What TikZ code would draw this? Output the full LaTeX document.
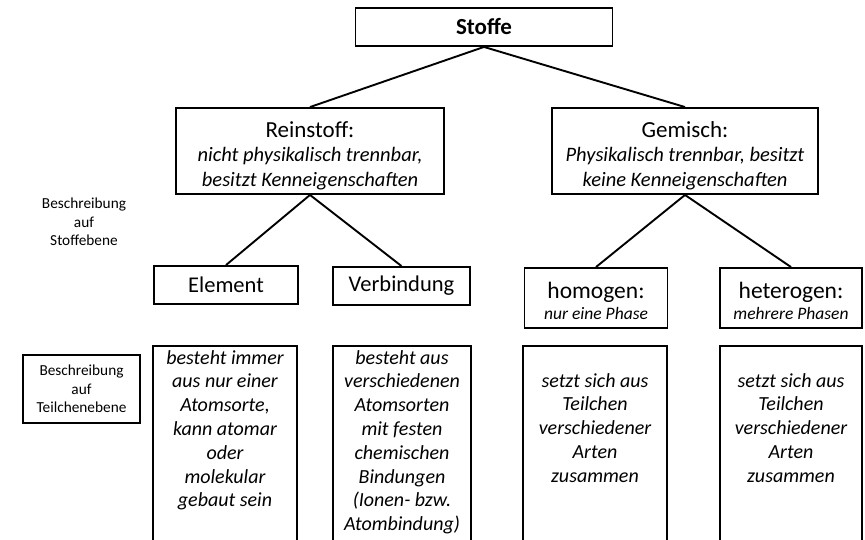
\documentclass[tikz,border=0pt]{standalone}
\usepackage{fontspec}
\setmainfont{Carlito}
\usetikzlibrary{positioning}

\begin{document}
\begin{tikzpicture}
          [x=1pt, y=-1pt,
           box/.style={draw, rectangle, line width=1.9pt, align=center, inner sep=2pt},
           big/.style={font=\fontsize{22.5}{26}\selectfont},
           descbox/.style={draw, rectangle, line width=1.9pt, anchor=north, minimum height=230pt},
           desctext/.style={anchor=north, align=center, inner sep=0pt, font=\fontsize{20}{23.8}\selectfont\itshape},
           side/.style={align=center, inner sep=0pt, font=\fontsize{15.3}{18.5}\selectfont},
           link/.style={line width=1.9pt}]
          \useasboundingbox (0,0) rectangle (865,540);
          \clip (0,0) rectangle (865,540);

          \node (stoffe) [box, minimum width=257pt, minimum height=38pt, font=\fontsize{23}{26}\selectfont\bfseries] at (484,27) {Stoffe};

          \node (rein) [box, minimum width=268pt, minimum height=86pt, font=\fontsize{20.5}{24.5}\selectfont] at (310,151)
            {{\fontsize{23}{24.5}\selectfont\rule{0pt}{25pt}Reinstoff:}\\ \textit{nicht physikalisch trennbar,}\\ \textit{besitzt Kenneigenschaften}};
          \node (gem) [box, minimum width=266pt, minimum height=86pt, font=\fontsize{20.5}{24.5}\selectfont] at (685,151)
            {{\fontsize{23}{24.5}\selectfont\rule{0pt}{25pt}Gemisch:}\\ \textit{Physikalisch trennbar, besitzt}\\ \textit{keine Kenneigenschaften}};

          \node (elem) [box, big, minimum width=144pt, minimum height=38pt] at (226,285) {Element};
          \node (verb) [box, big, minimum width=137pt, minimum height=38pt] at (401.5,286) {Verbindung};
          \node (homo) [box, minimum width=143pt, minimum height=60pt, font=\fontsize{17.5}{23}\selectfont] at (596,298)
            {{\fontsize{23.5}{23}\selectfont\rule{0pt}{22pt}homogen:}\\[-2pt] \textit{nur eine Phase}};
          \node (hetero) [box, minimum width=142pt, minimum height=60pt, font=\fontsize{17.5}{23}\selectfont] at (791,298)
            {{\fontsize{23.5}{23}\selectfont\rule{0pt}{22pt}heterogen:}\\[-2pt] \textit{mehrere Phasen}};

          \draw[link] (stoffe.south) -- (rein.north);
          \draw[link] (stoffe.south) -- (gem.north);
          \draw[link] (rein.south) -- (elem.north);
          \draw[link] (rein.south) -- (verb.north);
          \draw[link] (gem.south) -- (homo.north);
          \draw[link] (gem.south) -- (hetero.north);

          % Beschreibung
          \node (stoffebene) [side] at (84,222) {Beschreibung\\ auf\\ Stoffebene};
          \node (teilchen) [box, side, minimum width=117pt, minimum height=68pt] at (81.5,389)
            {Beschreibung\\ auf\\ Teilchenebene};

          \node (elembox) [descbox, minimum width=144pt] at (225,345) {};
          \node (verbbox) [descbox, minimum width=138pt] at (402,345) {};
          \node (homobox) [descbox, minimum width=144pt] at (595,345) {};
          \node (heterobox) [descbox, minimum width=142pt] at (791,345) {};

          \node (elemtext) [desctext] at (225,350)
            {besteht immer\\ aus nur einer\\ Atomsorte,\\ kann atomar\\ oder\\ molekular\\ gebaut sein};
          \node (verbtext) [desctext] at (402,350)
            {besteht aus\\ verschiedenen\\ Atomsorten\\ mit festen\\ chemischen\\ Bindungen\\ (Ionen- bzw.\\ Atombindung)};
          \node (homotext) [desctext] at (595,373)
            {setzt sich aus\\ Teilchen\\ verschiedener\\ Arten\\ zusammen};
          \node (heterotext) [desctext] at (791,373)
            {setzt sich aus\\ Teilchen\\ verschiedener\\ Arten\\ zusammen};

        \end{tikzpicture}
\end{document}
